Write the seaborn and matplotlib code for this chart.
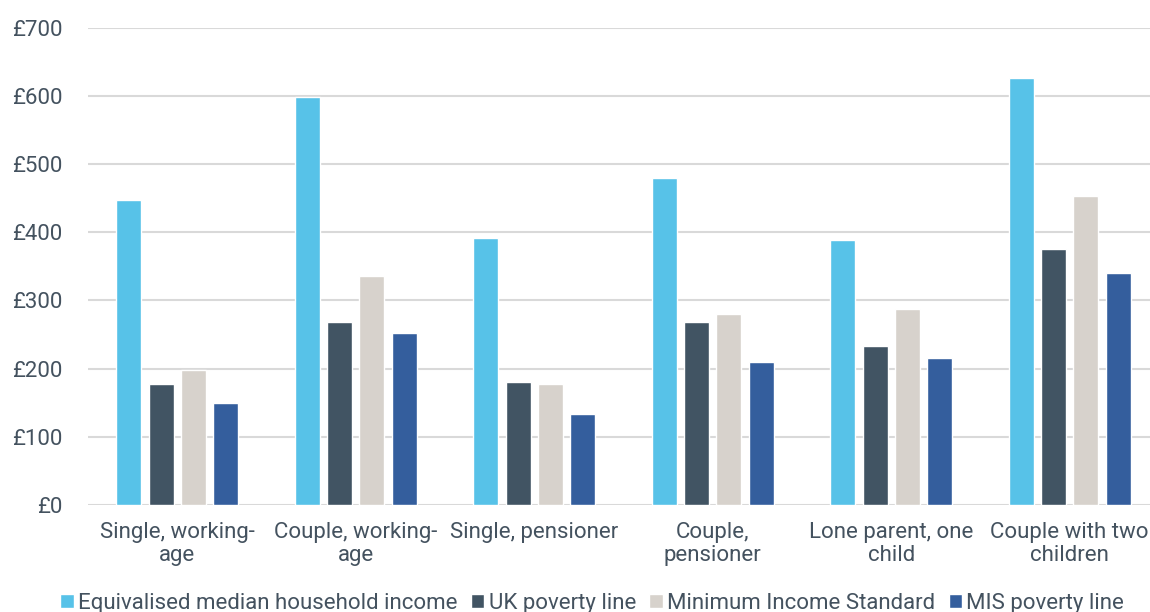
import numpy as np
import pandas as pd
import matplotlib
matplotlib.use("Agg")
import matplotlib.pyplot as plt
import seaborn as sns

# Weekly incomes by household type
household_types = [
    "Single, working-\nage",
    "Couple, working-\nage",
    "Single, pensioner",
    "Couple,\npensioner",
    "Lone parent, one\nchild",
    "Couple with two\nchildren",
]
median_income = [447, 598, 391, 480, 389, 626]
uk_poverty_line = [178, 268, 180, 268, 233, 376]
minimum_income_standard = [198, 336, 178, 280, 288, 453]
mis_poverty_line = [149, 252, 133, 210, 216, 340]

series_names = [
    "Equivalised median household income",
    "UK poverty line",
    "Minimum Income Standard",
    "MIS poverty line",
]
series_values = [median_income, uk_poverty_line, minimum_income_standard, mis_poverty_line]
series_colors = ["#57C2E8", "#415463", "#D7D2CC", "#345E9D"]

y_ticks = [0, 100, 200, 300, 400, 500, 600, 700]
y_tick_labels = [f"£{v}" for v in y_ticks]

rows = []
for name, vals in zip(series_names, series_values):
    for cat, v in zip(household_types, vals):
        rows.append({"household": cat, "series": name, "value": v})
df = pd.DataFrame(rows)

sns.set_theme(style="white")
plt.rcParams["font.family"] = ["Roboto", "DejaVu Sans"]

text_color = "#44525F"
font_size = 16

fig = plt.figure(figsize=(11.5, 6.12), dpi=100)
ax = fig.add_axes([88 / 1150, 1 - 505 / 612, 1071 / 1150, (505 - 27.7) / 612])

sns.barplot(
    data=df, x="household", y="value", hue="series",
    order=household_types, hue_order=series_names,
    palette=series_colors, width=0.727, gap=0.23,
    saturation=1, errorbar=None, ax=ax, legend=True,
)

ax.set_ylim(0, 700)
ax.set_xlim(-0.5, len(household_types) - 0.5)
ax.set_yticks(y_ticks)
ax.set_yticklabels(y_tick_labels)
ax.set_xlabel("")
ax.set_ylabel("")
ax.yaxis.grid(True, color="#D9D9D9", linewidth=1.5)
ax.set_axisbelow(True)
for side in ["top", "right", "left", "bottom"]:
    ax.spines[side].set_visible(False)
ax.tick_params(axis="y", length=0, pad=18.5, labelsize=font_size, labelcolor=text_color)
ax.tick_params(axis="x", length=0, pad=12, labelsize=font_size, labelcolor=text_color)
for lbl in ax.get_xticklabels():
    lbl.set_linespacing(1.13)

handles, labels = ax.get_legend_handles_labels()
ax.legend_.remove()
fig.legend(
    handles, labels, loc="center", bbox_to_anchor=(0.515, 0.014), ncol=4,
    frameon=False, fontsize=font_size, handlelength=0.6, handleheight=0.6,
    handletextpad=0.2, columnspacing=0.6, labelcolor=text_color,
)

fig.savefig("out.png", dpi=100)
